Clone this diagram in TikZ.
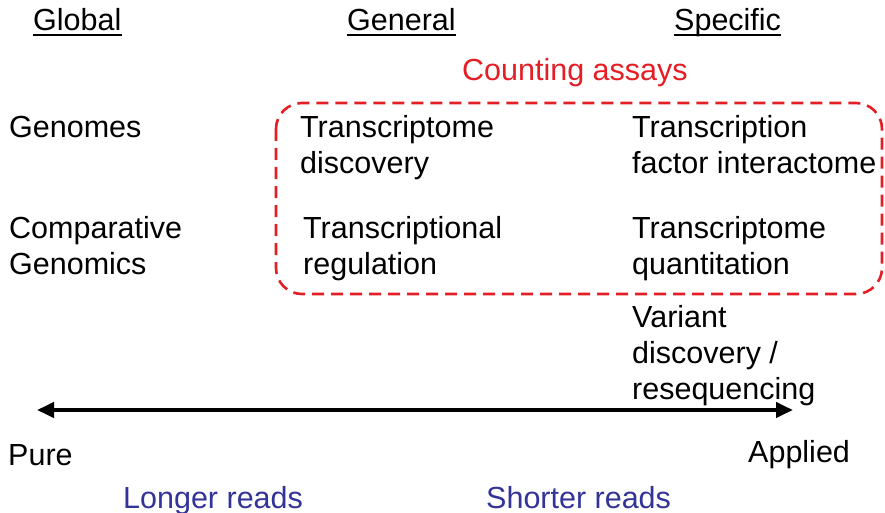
\documentclass[tikz,border=0pt]{standalone}
\usepackage{fontspec}
\setmainfont{Liberation Sans}
\usetikzlibrary{arrows.meta}
\definecolor{boxred}{RGB}{228,30,36}
\definecolor{readblue}{RGB}{51,51,153}
\begin{document}
\begin{tikzpicture}[x=1pt,y=-1pt,
  lbl/.style={anchor=base west,inner sep=0pt,align=left,
    font=\fontsize{30.5}{36}\selectfont},
  head/.style={lbl},
  uline/.style={line width=2pt},
  assay/.style={draw=boxred,line width=2.6pt,dash pattern=on 12pt off 7pt,rounded corners=26pt},
  axis/.style={line width=4pt,{Triangle[length=17pt,width=15pt]}-{Triangle[length=17pt,width=15pt]}}]
\useasboundingbox (0,0) rectangle (885,513);

% column headings
\node[head] (hglobal)  at (33,31)  {Global};
\node[head] (hgeneral) at (347,31) {General};
\node[head] (hspec)    at (674,31) {Specific};
\foreach \h in {hglobal,hgeneral,hspec}
  \draw[uline] ([yshift=-4pt]\h.base west) -- ([yshift=-4pt]\h.base east);

% counting assays group
\node[lbl,text=boxred] (count) at (462,81) {Counting assays};
\draw[assay] (276,103) rectangle (882,294);

% left column (a node's base is the baseline of its last line)
\node[lbl] (genomes) at (9,138) {Genomes};
\node[lbl] (comp)    at (9,274) {Comparative\\Genomics};

% middle column
\node[lbl] (tdisc) at (300,174) {Transcriptome\\discovery};
\node[lbl] (treg)  at (303,274) {Transcriptional\\regulation};

% right column
\node[lbl] (tfi)   at (632,174) {Transcription\\factor interactome};
\node[lbl] (tquan) at (632,274) {Transcriptome\\quantitation};
\node[lbl] (var)   at (632,399) {Variant\\discovery /\\resequencing};

% pure--applied axis
\coordinate (pureend) at (37,410);
\coordinate (applend) at (793,410);
\draw[axis] (pureend) -- (applend);
\node[lbl] (pure)    at (8,465)   {Pure};
\node[lbl] (applied) at (748,462) {Applied};

% read lengths
\node[lbl,text=readblue] (longer)  at (123,508) {Longer reads};
\node[lbl,text=readblue] (shorter) at (486,508) {Shorter reads};
\end{tikzpicture}
\end{document}
